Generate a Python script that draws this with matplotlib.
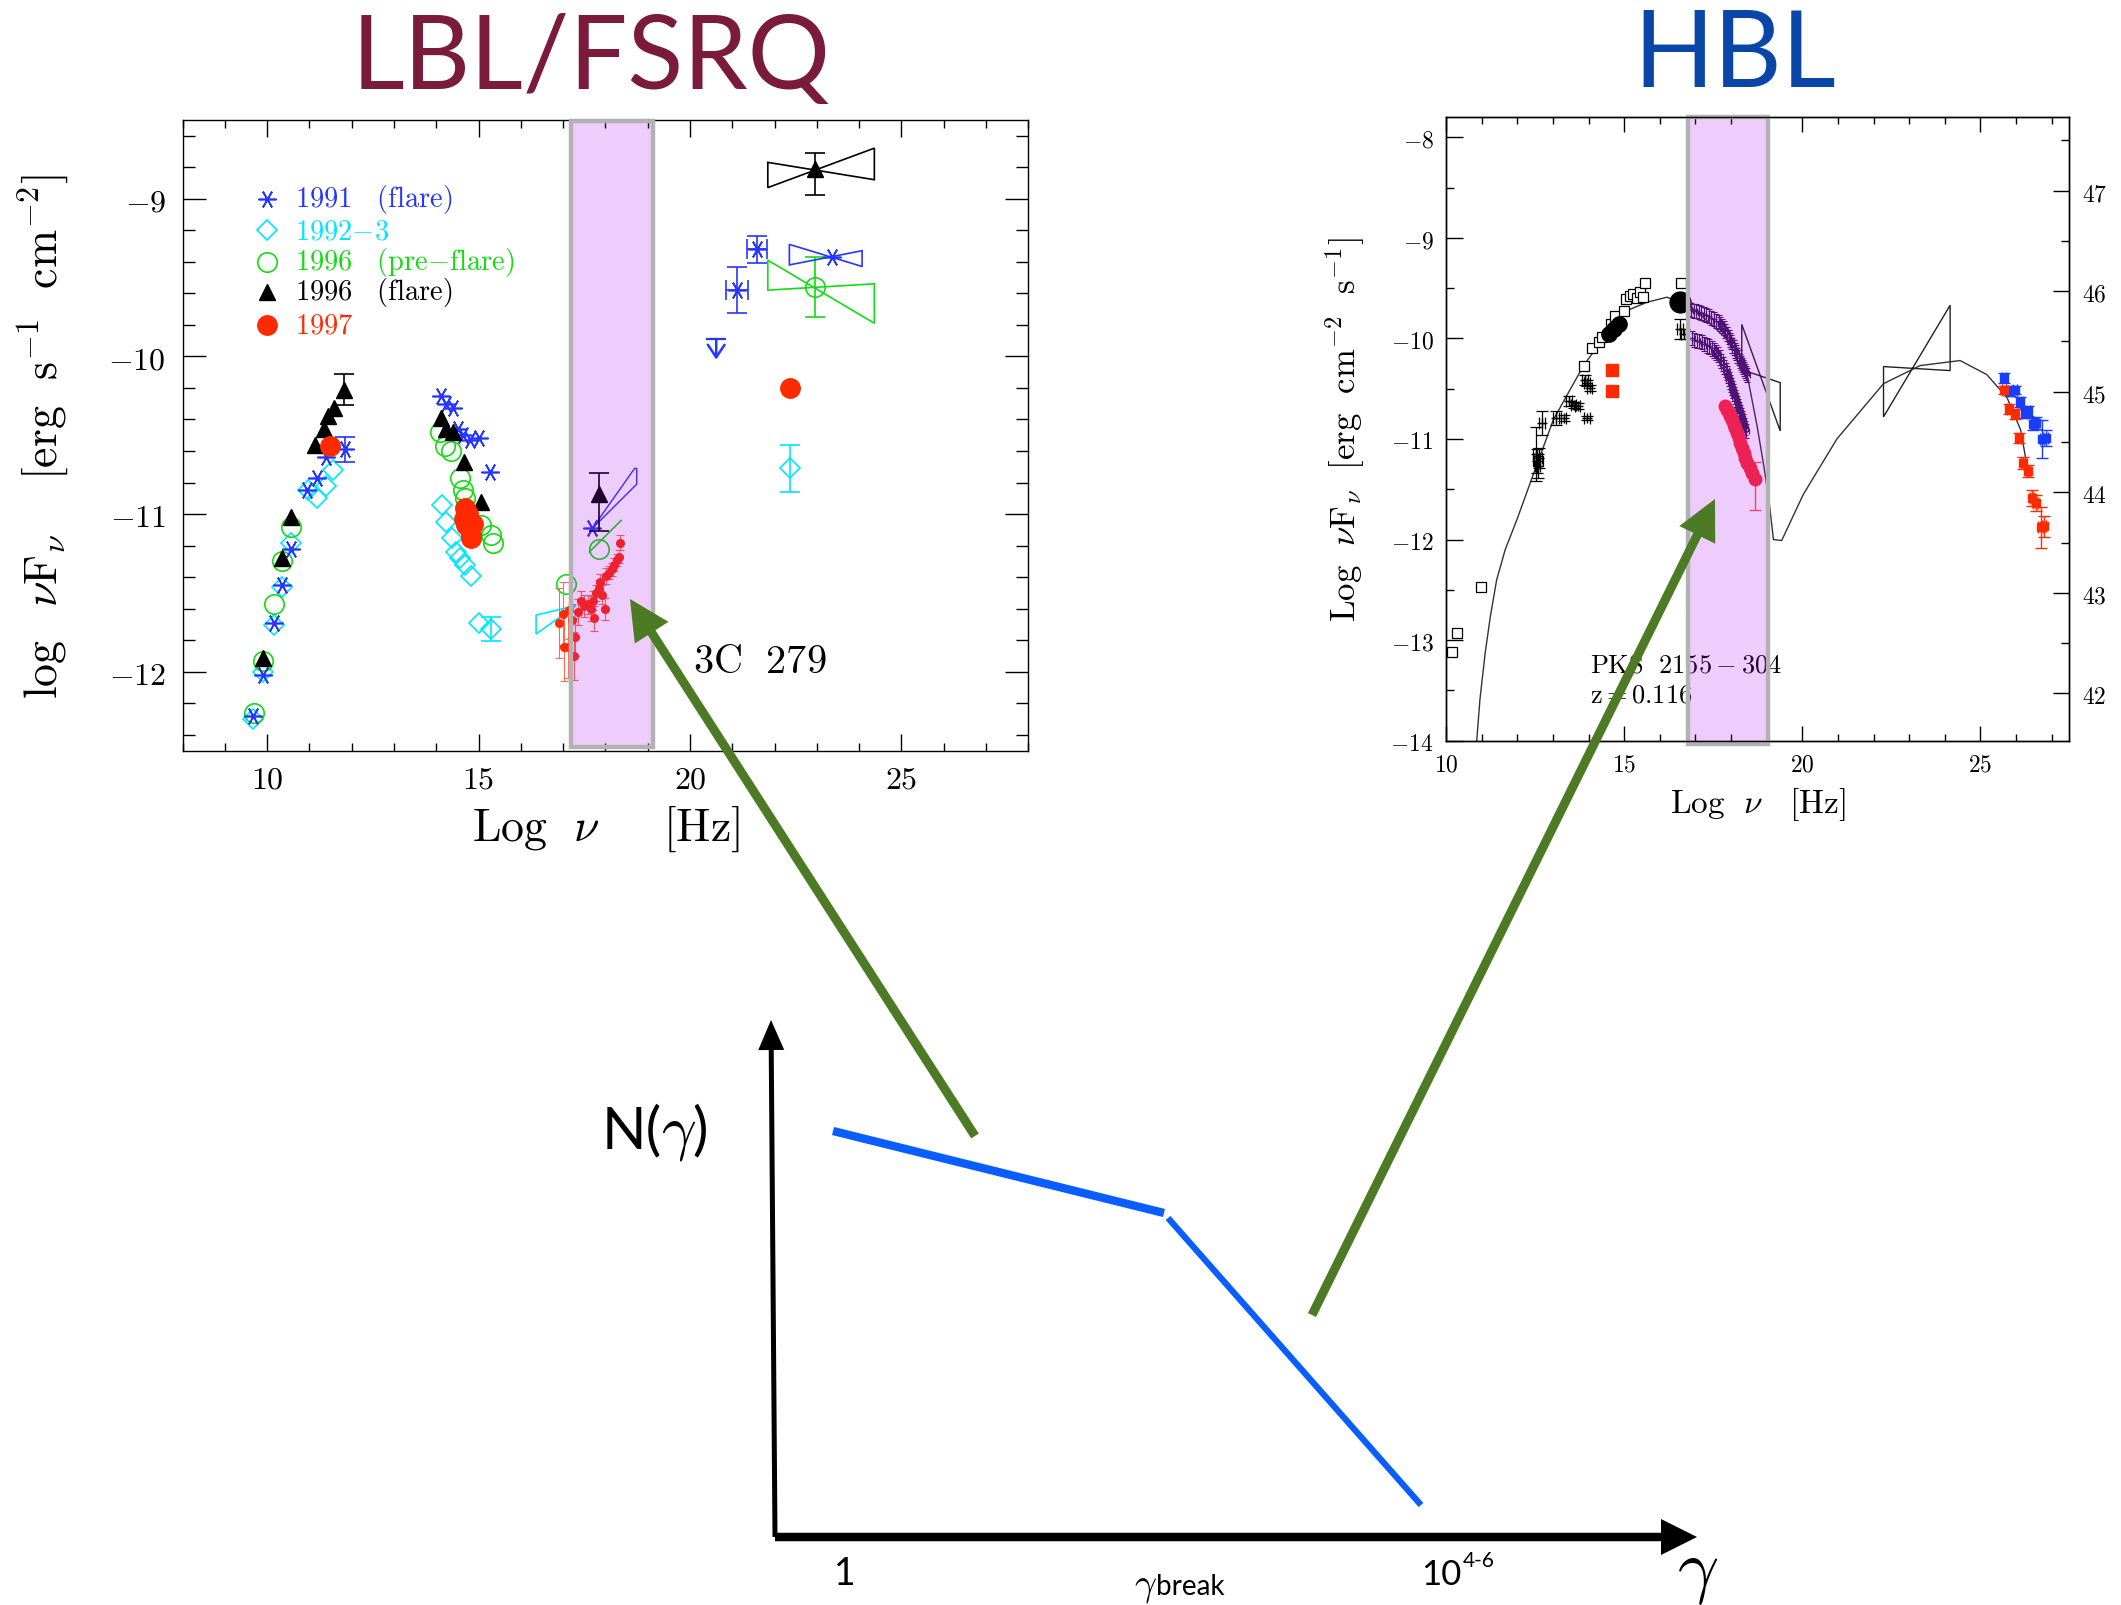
import numpy as np
import matplotlib.pyplot as plt
import matplotlib.transforms as mtransforms
from matplotlib.patches import Polygon, Rectangle
from matplotlib.ticker import MultipleLocator, FuncFormatter

plt.rcParams['mathtext.fontset'] = 'cm'

W, H = 2121, 1606

# ---------------- 3C 279 (LBL/FSRQ) ----------------
# 1991 flare
x91_lo = [9.67, 9.91, 10.17, 10.34, 10.56, 10.93, 11.17, 11.38]
y91_lo = [-12.28, -12.02, -11.69, -11.45, -11.22, -10.85, -10.77, -10.64]
x91_err, y91_err, dy91_err = 11.83, -10.59, 0.08
x91_opt = [14.12, 14.24, 14.39, 14.51, 14.63, 14.79, 15.02, 15.28]
y91_opt = [-10.25, -10.30, -10.33, -10.46, -10.50, -10.53, -10.52, -10.73]
x91_xr, y91_xr = 17.69, -11.09
bow91_xr = [(17.69, -11.09), (18.69, -10.71), (18.74, -10.71), (18.74, -10.81)]
x91_g = [21.11, 21.58]
y91_g = [-9.58, -9.32]
dx91_g = [0.27, 0.23]
dy91_g = [0.145, 0.085]
x91_ul, y91_ul = 20.62, -9.89
x91_bow, y91_bow = 23.36, -9.37
bow91_g = [(22.35, -9.29), (24.07, -9.43), (24.07, -9.33), (22.35, -9.42)]

# 1992-3
x92_lo = [9.67, 9.91, 10.17, 10.35, 10.56, 10.97, 11.17, 11.38, 11.56]
y92_lo = [-12.30, -12.00, -11.70, -11.46, -11.18, -10.85, -10.90, -10.82, -10.72]
x92_opt = [14.14, 14.24, 14.38, 14.47, 14.55, 14.67, 14.83, 15.02, 15.30]
y92_opt = [-10.94, -11.05, -11.15, -11.24, -11.28, -11.32, -11.39, -11.69, -11.73]
bow92_xr = [(16.36, -11.64), (17.30, -11.58), (16.36, -11.76)]
x92_g, y92_g, dy92_g = 22.36, -10.71, 0.15

# 1996 pre-flare
x96p_lo = [9.69, 9.91, 10.16, 10.34, 10.56]
y96p_lo = [-12.26, -11.93, -11.57, -11.30, -11.08]
x96p_opt = [14.08, 14.20, 14.35, 14.55, 14.63, 14.67, 15.06, 15.30, 15.34]
y96p_opt = [-10.48, -10.57, -10.60, -10.77, -10.85, -10.90, -11.07, -11.13, -11.18]
x96p_xr = [17.06, 17.84]
y96p_xr = [-11.44, -11.22]
line96p_xr = [(17.62, -11.24), (18.37, -11.04)]
x96p_g, y96p_g, dy96p_g = 22.96, -9.56, 0.19
bow96p_g = [(21.84, -9.39), (24.36, -9.79), (24.36, -9.54), (21.84, -9.58)]

# 1996 flare
x96f_lo = [9.91, 10.34, 10.57, 11.14, 11.35, 11.44, 11.57]
y96f_lo = [-11.91, -11.28, -11.02, -10.56, -10.46, -10.38, -10.33]
x96f_err, y96f_err, dy96f_err = 11.82, -10.21, 0.10
x96f_opt = [14.12, 14.24, 14.39, 14.65, 15.05]
y96f_opt = [-10.39, -10.46, -10.48, -10.67, -10.92]
x96f_xr, y96f_xr = 17.84, -10.87
dy96f_xr = [[0.24], [0.13]]
x96f_g, y96f_g = 22.96, -8.81
dy96f_g = [[0.17], [0.10]]
bow96f_g = [(21.84, -8.77), (24.36, -8.88), (24.36, -8.68), (21.84, -8.93)]

# 1997
x97_ir, y97_ir = 11.48, -10.57
x97_opt = [14.67, 14.65, 14.71, 14.79, 14.83, 14.87, 14.81, 14.75]
y97_opt = [-10.96, -11.03, -11.07, -11.09, -11.13, -11.06, -11.15, -11.00]
x97_xr = [16.91, 16.99, 17.15, 17.03, 17.11, 17.25, 17.29, 17.21, 17.35, 17.43,
          17.50, 17.58, 17.66, 17.74, 17.70, 17.78, 17.84, 17.87, 17.92, 17.98,
          18.02, 18.09, 18.16, 18.21, 18.27, 18.31, 18.35]
y97_xr = [-11.69, -11.63, -11.61, -11.84, -11.84, -11.90, -11.78, -11.67, -11.62, -11.55,
          -11.58, -11.57, -11.60, -11.66, -11.55, -11.50, -11.47, -11.43, -11.51, -11.60,
          -11.39, -11.37, -11.35, -11.32, -11.29, -11.27, -11.18]
dy97_xr = [0.22, 0.20, 0.18, 0.22, 0.20, 0.15, 0.12, 0.10, 0.08, 0.06,
           0.07, 0.06, 0.08, 0.08, 0.06, 0.05, 0.05, 0.05, 0.06, 0.07,
           0.05, 0.04, 0.04, 0.04, 0.04, 0.04, 0.05]
x97_g, y97_g = 22.36, -10.20

legend_labels = [r'$\mathrm{1991\ \ \ (flare)}$', r'$\mathrm{1992{-}3}$',
                 r'$\mathrm{1996\ \ \ (pre{-}flare)}$', r'$\mathrm{1996\ \ \ (flare)}$',
                 r'$\mathrm{1997}$']

# ---------------- PKS 2155-304 (HBL) ----------------
xs_sq = [10.16, 10.30, 10.98, 12.57, 13.88, 14.09, 14.28, 14.37, 14.63, 14.73,
         15.00, 15.06, 15.15, 15.24, 15.36, 15.43, 15.54, 15.57, 16.59]
ys_sq = [-13.12, -12.93, -12.47, -11.22, -10.27, -10.10, -10.04, -9.99, -9.86, -9.78,
         -9.73, -9.61, -9.58, -9.56, -9.60, -9.54, -9.59, -9.45, -9.45]
xs_dot = [14.56, 14.70, 14.84]
ys_dot = [-9.96, -9.91, -9.86]
xs_big, ys_big = 16.57, -9.64
xs_cr = [12.52, 12.55, 12.57, 12.60, 12.69, 13.09, 13.30, 13.46, 13.58, 13.69,
         13.89, 13.95, 14.03, 13.95, 16.57, 16.67]
ys_cr = [-11.15, -11.22, -11.27, -11.19, -10.84, -10.79, -10.79, -10.62, -10.66, -10.67,
         -10.41, -10.44, -10.49, -10.79, -9.91, -9.96]
dys_cr = [0.27, 0.12, 0.12, 0.10, 0.12, 0.07, 0.03, 0.05, 0.03, 0.03,
          0.05, 0.03, 0.03, 0.02, 0.10, 0.05]
xs_rsq = [14.67, 14.67]
ys_rsq = [-10.31, -10.52]

# two X-ray spectra (high and low state)
xs_xhi = [16.81, 16.88, 16.95, 17.02, 17.09, 17.16, 17.23, 17.30, 17.37, 17.44,
          17.51, 17.58, 17.65, 17.70, 17.74, 17.79, 17.84, 17.88, 17.93, 17.97,
          18.00, 18.04, 18.07, 18.11, 18.15, 18.18, 18.21, 18.25, 18.28, 18.31,
          18.33, 18.37, 18.40, 18.43, 18.46]
ys_xhi = [-9.71, -9.72, -9.73, -9.73, -9.74, -9.75, -9.76, -9.77, -9.78, -9.80,
          -9.81, -9.83, -9.84, -9.86, -9.88, -9.90, -9.93, -9.96, -9.99, -10.02,
          -10.04, -10.07, -10.09, -10.12, -10.14, -10.17, -10.19, -10.22, -10.24, -10.26,
          -10.28, -10.30, -10.32, -10.34, -10.36]
xs_xlo = [16.90, 16.97, 17.04, 17.11, 17.18, 17.25, 17.32, 17.39, 17.46, 17.52,
          17.58, 17.63, 17.68, 17.73, 17.77, 17.81, 17.85, 17.89, 17.92, 17.95,
          17.98, 18.01, 18.03, 18.06, 18.09, 18.12, 18.15, 18.18, 18.20, 18.23,
          18.26, 18.29, 18.31, 18.34, 18.37, 18.40, 18.42]
ys_xlo = [-10.00, -10.02, -10.03, -10.03, -10.04, -10.06, -10.07, -10.08, -10.10, -10.12,
          -10.14, -10.16, -10.19, -10.22, -10.25, -10.28, -10.31, -10.34, -10.37, -10.40,
          -10.43, -10.46, -10.49, -10.52, -10.55, -10.58, -10.61, -10.64, -10.67, -10.70,
          -10.73, -10.76, -10.79, -10.82, -10.86, -10.89, -10.92]
xs_xred = [17.84, 17.88, 17.93, 17.98, 18.02, 18.07, 18.12, 18.16, 18.21, 18.26,
           18.31, 18.35, 18.40, 18.46, 18.54, 18.59, 18.66]
ys_xred = [-10.67, -10.71, -10.74, -10.77, -10.81, -10.86, -10.89, -10.94, -10.99, -11.04,
           -11.09, -11.14, -11.19, -11.24, -11.29, -11.34, -11.40]

bow_xray = [(18.30, -9.86), (19.38, -10.92), (19.38, -10.44), (18.30, -10.31)]
bow_gev = [(22.28, -10.28), (24.15, -10.32), (24.15, -9.67), (22.28, -10.78)]

xs_tev_b = [25.67, 25.84, 25.98, 26.10, 26.24, 26.33, 26.48, 26.57, 26.73, 26.83]
ys_tev_b = [-10.39, -10.52, -10.51, -10.63, -10.74, -10.72, -10.85, -10.84, -11.00, -10.99]
dys_tev_b = [0.05, 0.05, 0.04, 0.05, 0.05, 0.05, 0.06, 0.06, 0.19, 0.08]
xs_tev_r = [25.67, 25.80, 25.96, 26.08, 26.19, 26.33, 26.45, 26.55, 26.69, 26.78]
ys_tev_r = [-10.51, -10.70, -10.75, -10.99, -11.24, -11.32, -11.59, -11.64, -11.88, -11.87]
dys_tev_r = [0.04, 0.05, 0.05, 0.05, 0.06, 0.06, 0.08, 0.08, 0.20, 0.10]

# SSC model curve
xs_model = [10.86, 10.95, 11.10, 11.24, 11.42, 11.66, 11.99, 12.41, 13.01, 13.48,
            13.86, 14.33, 14.70, 15.17, 15.64, 16.20, 16.57, 17.00, 17.50, 18.00,
            18.37, 18.55, 18.73, 18.92, 19.06, 19.19, 19.42, 20.03, 20.97, 22.28,
            23.31, 24.43, 25.18, 25.75, 26.13, 26.29]
ys_model = [-14.00, -13.59, -13.12, -12.77, -12.40, -12.10, -11.80, -11.39, -10.81, -10.51,
            -10.27, -10.04, -9.84, -9.71, -9.64, -9.59, -9.64, -9.72, -9.88, -10.05,
            -10.21, -10.54, -10.87, -11.27, -11.60, -12.00, -12.01, -11.55, -11.00, -10.45,
            -10.27, -10.22, -10.36, -10.59, -10.91, -11.23]
lum_offset = 55.53

# ---------------- electron spectrum sketch ----------------
gamma_lo = [(833, 474), (1164, 392)]
gamma_hi = [(1168, 387), (1421, 100)]
arrow_lbl = [(975, 469), (630, 1006)]
arrow_hbl = [(1312, 290), (1715, 1106)]

blue91 = '#2436ff'
cyan92 = '#00e6ff'
green96 = '#14dc14'
red97 = '#ff2a00'
band_face = '#aa00eb'
band_edge = '#b2b2b2'
olive = '#4d7a24'


def mtick(v, pos):
    return r'$%d$' % int(round(v))


def band(ax, x0, x1, y0=0.0, y1=1.0):
    tr = mtransforms.blended_transform_factory(ax.transData, ax.transAxes)
    ax.add_patch(Rectangle((x0, y0), x1 - x0, y1 - y0, transform=tr,
                           facecolor=band_face, alpha=0.2, edgecolor='none',
                           zorder=10, clip_on=False))
    ax.add_patch(Rectangle((x0, y0), x1 - x0, y1 - y0, transform=tr, fill=False,
                           edgecolor=band_edge, linewidth=3.2, zorder=11, clip_on=False))


fig = plt.figure(figsize=(W / 100, H / 100), dpi=100)

######################### LBL / FSRQ #########################

ax = fig.add_axes([0.0861, 0.5319, 0.3987, 0.3929])
ax.set_xlim(8, 28)
ax.set_ylim(-12.5, -8.5)
ax.xaxis.set_major_locator(MultipleLocator(5))
ax.xaxis.set_minor_locator(MultipleLocator(1))
ax.yaxis.set_major_locator(MultipleLocator(1))
ax.yaxis.set_minor_locator(MultipleLocator(0.2))
ax.xaxis.set_major_formatter(FuncFormatter(mtick))
ax.yaxis.set_major_formatter(FuncFormatter(mtick))
ax.tick_params(which='both', direction='in', top=True, right=True, width=1.0, labelsize=23)
ax.tick_params(axis='x', which='major', length=12, pad=9)
ax.tick_params(axis='x', which='minor', length=6)
ax.tick_params(axis='y', which='major', length=16.5, pad=12)
ax.tick_params(axis='y', which='minor', length=8.5)
for s in ax.spines.values():
    s.set_linewidth(1.0)

star = (6, 2, 90)
ax.plot(x91_lo + x91_opt + [x91_xr], y91_lo + y91_opt + [y91_xr], ls='none', marker=star,
        ms=13, mew=1.2, color=blue91, zorder=4)
ax.errorbar(x91_err, y91_err, yerr=dy91_err, fmt='none', ecolor=blue91, elinewidth=1.2,
            capsize=7, capthick=1.2, zorder=4)
ax.plot(x91_err, y91_err, marker=star, ms=13, mew=1.2, color=blue91, zorder=4)
ax.errorbar(x91_g, y91_g, xerr=dx91_g, yerr=dy91_g, fmt='none', ecolor=blue91,
            elinewidth=1.2, capsize=7, capthick=1.2, zorder=4)
ax.plot(x91_g + [x91_bow], y91_g + [y91_bow], ls='none', marker=star, ms=13, mew=1.2,
        color=blue91, zorder=4)
# upper limit: bar with a downward arrow
ax.plot(x91_ul, y91_ul, marker='_', ms=14, mew=1.6, color=blue91, zorder=4)
ax.annotate('', xy=(x91_ul, y91_ul - 0.13), xytext=(x91_ul, y91_ul),
            arrowprops=dict(arrowstyle='->,head_length=0.45,head_width=0.3', lw=1.8,
                            color=blue91, shrinkA=0, shrinkB=0, mutation_scale=20), zorder=4)
ax.add_patch(Polygon(bow91_g, closed=True, fill=False, edgecolor=blue91, lw=1.2, zorder=4))
ax.add_patch(Polygon(bow91_xr, closed=True, fill=False, edgecolor=blue91, lw=1.0, zorder=4))

ax.plot(x92_lo + x92_opt, y92_lo + y92_opt, ls='none', marker='D', ms=10, mfc='none',
        mew=1.2, color=cyan92, zorder=3)
ax.errorbar(x92_opt[-1], y92_opt[-1], yerr=0.075, fmt='none', ecolor=cyan92,
            elinewidth=1.2, capsize=7, capthick=1.2, zorder=3)
ax.errorbar(x92_g, y92_g, yerr=dy92_g, fmt='D', ms=10, mfc='none', mec=cyan92,
            mew=1.2, ecolor=cyan92, elinewidth=1.2, capsize=7, capthick=1.2, zorder=3)
ax.add_patch(Polygon(bow92_xr, closed=True, fill=False, edgecolor=cyan92, lw=1.2, zorder=3))

ax.plot(x96p_lo + x96p_opt + x96p_xr, y96p_lo + y96p_opt + y96p_xr, ls='none', marker='o',
        ms=14, mfc='none', mew=1.2, color=green96, zorder=3)
ax.plot(*zip(*line96p_xr), color=green96, lw=1.2, zorder=3)
ax.errorbar(x96p_g, y96p_g, yerr=dy96p_g, fmt='o', ms=14, mfc='none', mec=green96,
            mew=1.2, ecolor=green96, elinewidth=1.2, capsize=7, capthick=1.2, zorder=3)
ax.add_patch(Polygon(bow96p_g, closed=True, fill=False, edgecolor=green96, lw=1.2, zorder=3))

ax.plot(x96f_lo + x96f_opt, y96f_lo + y96f_opt, ls='none', marker='^', ms=12,
        color='black', zorder=5)
ax.errorbar(x96f_err, y96f_err, yerr=dy96f_err, fmt='^', ms=12, color='black',
            elinewidth=1.2, capsize=7, capthick=1.2, zorder=5)
ax.errorbar(x96f_xr, y96f_xr, yerr=dy96f_xr, fmt='^', ms=12, color='black',
            elinewidth=1.2, capsize=7, capthick=1.2, zorder=5)
ax.errorbar(x96f_g, y96f_g, yerr=dy96f_g, fmt='^', ms=12, color='black',
            elinewidth=1.2, capsize=7, capthick=1.2, zorder=5)
ax.add_patch(Polygon(bow96f_g, closed=True, fill=False, edgecolor='black', lw=1.2, zorder=5))

ax.plot([x97_ir] + x97_opt + [x97_g], [y97_ir] + y97_opt + [y97_g], ls='none', marker='o',
        ms=14, color=red97, zorder=6)
ax.errorbar(x97_xr, y97_xr, yerr=dy97_xr, fmt='o', ms=5.5, color=red97, ecolor='#ff6a55',
            elinewidth=0.8, capsize=3, capthick=0.8, zorder=6)

band(ax, 17.19, 19.12, 0.006, 0.998)

ax.text(20.06, -12.0, r'$\mathrm{3C\ \ 279}$', fontsize=29, ha='left', va='baseline')

# legend
leg_y = [0.875, 0.825, 0.775, 0.7275, 0.675]
leg_style = [dict(marker=star, ms=13, mew=1.2, color=blue91),
             dict(marker='D', ms=10, mew=1.2, mfc='none', color=cyan92),
             dict(marker='o', ms=14, mew=1.2, mfc='none', color=green96),
             dict(marker='^', ms=12, color='black'),
             dict(marker='o', ms=14, color=red97)]
for yy, lab, st in zip(leg_y, legend_labels, leg_style):
    ax.plot([0.1], [yy], transform=ax.transAxes, ls='none', clip_on=False, **st)
    ax.text(0.133, yy, lab, transform=ax.transAxes, fontsize=20.5, va='center',
            color=st['color'])

ax.text(-0.164, 0.5, r'$\log\ \ \nu\mathrm{F}_\nu\ \ \ \ [\mathrm{erg\ \ s^{-1}\ \ cm^{-2}}]$',
        transform=ax.transAxes, rotation=90, fontsize=33, ha='center', va='center')
ax.text(0.5, -0.1225, r'$\mathrm{Log}\ \ \nu\ \ \ \ \ [\mathrm{Hz}]$', transform=ax.transAxes,
        fontsize=33, ha='center', va='center')

######################### HBL #########################

axr = fig.add_axes([0.6818, 0.5382, 0.2939, 0.3882])
axr.set_xlim(10, 27.5)
axr.set_ylim(-14, -7.8)
axr.xaxis.set_major_locator(MultipleLocator(5))
axr.xaxis.set_minor_locator(MultipleLocator(1))
axr.yaxis.set_major_locator(MultipleLocator(1))
axr.yaxis.set_minor_locator(MultipleLocator(0.5))
axr.xaxis.set_major_formatter(FuncFormatter(mtick))
axr.yaxis.set_major_formatter(FuncFormatter(mtick))
axr.tick_params(which='both', direction='in', top=True, right=False, width=1.0, labelsize=17)
axr.tick_params(axis='x', which='major', length=11, pad=8)
axr.tick_params(axis='x', which='minor', length=5)
axr.tick_params(axis='y', which='major', length=12, pad=9)
axr.tick_params(axis='y', which='minor', length=6)

axl = axr.twinx()
axl.set_ylim(-14 + lum_offset, -7.8 + lum_offset)
axl.yaxis.set_major_locator(MultipleLocator(1))
axl.yaxis.set_minor_locator(MultipleLocator(0.5))
axl.yaxis.set_major_formatter(FuncFormatter(mtick))
axl.tick_params(which='both', direction='in', width=1.0, labelsize=17, pad=9)
axl.tick_params(which='major', length=11.5)
axl.tick_params(which='minor', length=5.5)
for a in (axr, axl):
    for s in a.spines.values():
        s.set_linewidth(1.0)

axr.plot(xs_model, ys_model, color='#333333', lw=1.0, zorder=2)
axr.plot(xs_sq, ys_sq, ls='none', marker='s', ms=7, mfc='white', mec='black', mew=0.9, zorder=3)
axr.errorbar(xs_cr, ys_cr, yerr=dys_cr, xerr=0.08, fmt='+', ms=7, color='black',
             elinewidth=0.9, capsize=4, capthick=0.9, zorder=3)
axr.plot(xs_dot, ys_dot, ls='none', marker='o', ms=11, color='black', zorder=4)
axr.plot(xs_big, ys_big, marker='o', ms=15, color='black', zorder=4)
axr.plot(xs_rsq, ys_rsq, ls='none', marker='s', ms=8, color=red97, zorder=4)

for xx, yy in ((xs_xhi, ys_xhi), (xs_xlo, ys_xlo)):
    axr.errorbar(xx, yy, xerr=0.08, yerr=0.07, fmt='+', ms=5, mew=0.8, color='#3a1858',
                 elinewidth=0.8, capsize=2, capthick=0.8, zorder=4)
axr.errorbar(xs_xred[-1], ys_xred[-1], yerr=[[0.31], [0.17]], fmt='none', ecolor='#ff5a50',
             elinewidth=1.0, capsize=4, capthick=1.0, zorder=5)
axr.plot(xs_xred, ys_xred, ls='none', marker='o', ms=9, color='#ff2a30', zorder=5)

axr.add_patch(Polygon(bow_xray, closed=True, fill=False, edgecolor='#222222', lw=1.0, zorder=3))
axr.add_patch(Polygon(bow_gev, closed=True, fill=False, edgecolor='#222222', lw=1.0, zorder=3))

axr.errorbar(xs_tev_b, ys_tev_b, yerr=dys_tev_b, xerr=0.06, fmt='s', ms=6, color='#1a3cff',
             elinewidth=1.0, capsize=4, capthick=1.0, zorder=4)
axr.errorbar(xs_tev_r, ys_tev_r, yerr=dys_tev_r, xerr=0.06, fmt='s', ms=6, color=red97,
             elinewidth=1.0, capsize=4, capthick=1.0, zorder=4)

band(axr, 16.78, 19.04, -0.006, 1.0)

axr.text(14.04, -13.31, r'$\mathrm{PKS\ \ 2155-304}$', fontsize=19, ha='left', va='baseline')
axr.text(14.04, -13.61, r'$\mathrm{z{=}0.116}$', fontsize=19, ha='left', va='baseline')

axr.text(-0.162, 0.5, r'$\mathrm{Log}\ \ \nu\mathrm{F}_\nu\ \ [\mathrm{erg\ \ cm^{-2}\ \ s^{-1}}]$',
         transform=axr.transAxes, rotation=90, fontsize=25, ha='center', va='center')
axr.text(0.5, -0.1015, r'$\mathrm{Log}\ \ \nu\ \ \ [\mathrm{Hz}]$', transform=axr.transAxes,
         fontsize=24, ha='center', va='center')

######################### TITLES AND SKETCH #########################

sans = ['Lato', 'DejaVu Sans']
fig.text(0.2786, 0.9444, 'LBL/FSRQ', color='#7a1b3b', fontsize=74, family=sans,
         ha='center', va='baseline')
fig.text(0.818, 0.9456, 'HBL', color='#0a45a8', fontsize=76, family=sans,
         ha='center', va='baseline')

ov = fig.add_axes([0, 0, 1, 1], zorder=20)
ov.set_xlim(0, W)
ov.set_ylim(0, H)
ov.patch.set_alpha(0)
ov.axis('off')

# axes of the N(gamma) sketch
ov.arrow(775, 68, -4, 517, width=5, head_width=26, head_length=30,
         length_includes_head=True, color='black', lw=0)
ov.arrow(775, 68, 922, 0, width=8.5, head_width=36, head_length=36,
         length_includes_head=True, color='black', lw=0)

# broken power law
ov.plot(*zip(*gamma_lo), color='#0a5dff', lw=6, solid_capstyle='butt')
ov.plot(*zip(*gamma_hi), color='#0a5dff', lw=4.5, solid_capstyle='butt')

for (x0, y0), (x1, y1) in (arrow_lbl, arrow_hbl):
    ov.arrow(x0, y0, x1 - x0, y1 - y0, width=9, head_width=40, head_length=40,
             length_includes_head=True, color=olive, lw=0)

ov.text(602, 458, 'N(', fontsize=42, family=sans, ha='left', va='baseline')
ov.text(661, 458, r'$\gamma$', fontsize=44, ha='left', va='baseline')
ov.text(692, 458, ')', fontsize=42, family=sans, ha='left', va='baseline')
ov.text(845, 21, '1', fontsize=27, family=sans, ha='center', va='baseline')
ov.text(1134, 11, r'$\gamma$', fontsize=28, ha='left', va='baseline')
ov.text(1156, 11, 'break', fontsize=20, family=sans, ha='left', va='baseline')
t10 = ov.text(1421, 21, '10', fontsize=25, family=sans, ha='left', va='baseline')
ov.annotate('4-6', xy=(1.0, 0.62), xycoords=t10, xytext=(1, 0), textcoords='offset points',
            fontsize=15, family=sans, ha='left', va='bottom')
ov.text(1698, 16, r'$\gamma$', fontsize=52, ha='center', va='baseline')

fig.savefig('out.png', dpi=100)
